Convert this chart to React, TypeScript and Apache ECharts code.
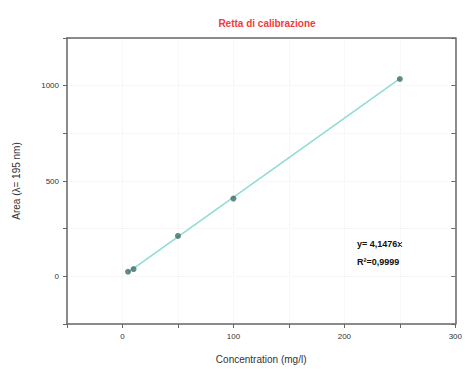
import React, { useEffect, useRef } from "react";
import * as echarts from "echarts";

const concentrations = [5, 10, 50, 100, 250];
const areas = [24, 38, 212, 408, 1035];
const fitX = [5, 250];
const fitY = [20.7, 1036.9];
const xTickLabels = ["0", "100", "200", "300"];
const yTickLabels = ["0", "500", "1000"];

export default function App() {
  const ref = useRef<HTMLDivElement>(null);
  useEffect(() => {
    const chart = echarts.init(ref.current!, null, { renderer: "svg" });
    const font = "Liberation Sans, Arial, sans-serif";
    const axisColor = "#666";
    chart.setOption({
      animation: false,
      backgroundColor: "#fff",
      title: {
        text: "Retta di calibrazione",
        left: 262,
        top: 13,
        textAlign: "center",
        textStyle: { color: "#f03c3c", fontSize: 10, fontWeight: "bold", fontFamily: font },
      },
      grid: { left: 67, right: 9, top: 38, bottom: 45 },
      xAxis: [
        {
          type: "value",
          position: "bottom",
          min: -50,
          max: 300,
          interval: 50,
          name: "Concentration (mg/l)",
          nameLocation: "middle",
          nameGap: 30,
          nameTextStyle: { fontSize: 10, color: "#333", fontFamily: font },
          axisLine: { show: true, onZero: false, lineStyle: { color: axisColor, width: 1.5 } },
          axisTick: { show: true, lineStyle: { color: axisColor }, length: 4 },
          axisLabel: {
            fontSize: 8,
            color: "#333",
            fontFamily: font,
            formatter: (v: number) => (xTickLabels.includes(String(v)) ? String(v) : ""),
          },
          splitLine: { show: true, lineStyle: { color: "#f0f0f0", type: "dotted" } },
        },
        {
          type: "value",
          position: "top",
          min: -50,
          max: 300,
          interval: 50,
          axisLine: { show: true, onZero: false, lineStyle: { color: axisColor, width: 1.5 } },
          axisTick: { show: false },
          axisLabel: { show: false },
          splitLine: { show: false },
        },
      ],
      yAxis: [
        {
          type: "value",
          position: "left",
          min: -250,
          max: 1250,
          interval: 250,
          name: "Area (\u03bb= 195 nm)",
          nameLocation: "middle",
          nameGap: 46,
          nameTextStyle: { fontSize: 10, color: "#333", fontFamily: font },
          axisLine: { show: true, onZero: false, lineStyle: { color: axisColor, width: 1.5 } },
          axisTick: { show: true, lineStyle: { color: axisColor }, length: 4 },
          axisLabel: {
            fontSize: 8,
            color: "#333",
            fontFamily: font,
            formatter: (v: number) => (yTickLabels.includes(String(v)) ? String(v) : ""),
          },
          splitLine: { show: true, lineStyle: { color: "#f0f0f0", type: "dotted" } },
        },
        {
          type: "value",
          position: "right",
          min: -250,
          max: 1250,
          interval: 250,
          axisLine: { show: true, onZero: false, lineStyle: { color: axisColor, width: 1.5 } },
          axisTick: { show: true, inside: true, lineStyle: { color: axisColor }, length: 4 },
          axisLabel: { show: false },
          splitLine: { show: false },
        },
      ],
      series: [
        {
          type: "line",
          data: fitX.map((x, i) => [x, fitY[i]]),
          showSymbol: false,
          symbol: "none",
          lineStyle: { color: "#8fdcd2", width: 1.5 },
          z: 1,
        },
        {
          type: "scatter",
          data: concentrations.map((x, i) => [x, areas[i]]),
          symbol: "circle",
          symbolSize: 6,
          itemStyle: { color: "#3e6e68" },
          z: 2,
        },
      ],
      graphic: [
        {
          type: "text",
          left: 357,
          top: 239,
          style: {
            text: "y= 4,1476x",
            fontSize: 9,
            fontWeight: "bold",
            fill: "#111",
            fontFamily: font,
          },
        },
        {
          type: "text",
          left: 357,
          top: 257,
          style: {
            text: "R\u00b2=0,9999",
            fontSize: 9,
            fontWeight: "bold",
            fill: "#111",
            fontFamily: font,
          },
        },
      ],
    });
    return () => chart.dispose();
  }, []);
  return (
    <div
      ref={ref}
      style={{ position: "fixed", left: 0, top: 0, width: 465, height: 369 }}
    />
  );
}
